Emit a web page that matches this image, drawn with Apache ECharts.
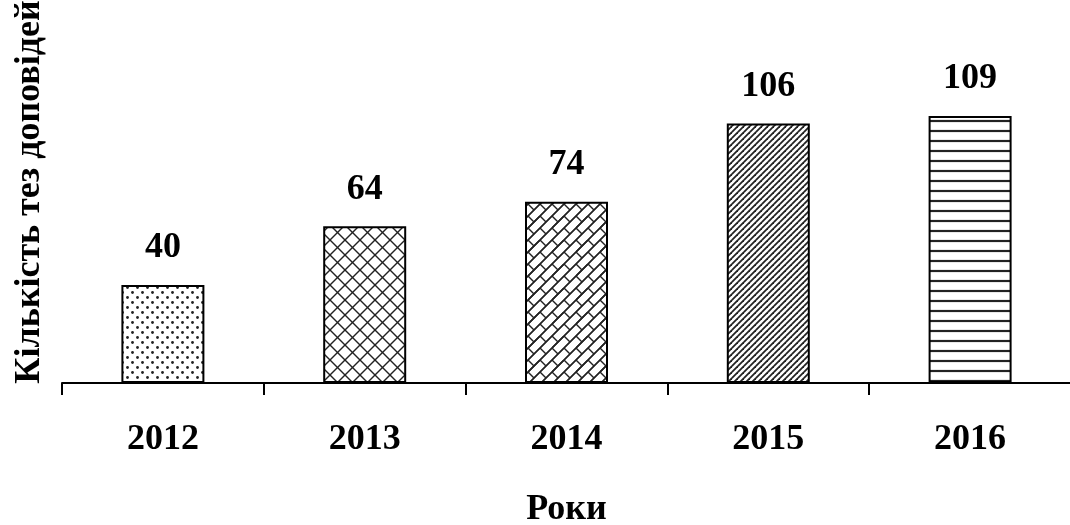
<!DOCTYPE html>
<html>
<head>
<meta charset="utf-8">
<script src="https://cdn.jsdelivr.net/npm/echarts@6/dist/echarts.min.js"></script>
<style>
  html, body { margin: 0; padding: 0; background: #fff; }
  #chart { width: 1070px; height: 525px; }
</style>
</head>
<body>
<div id="chart"></div>
<script>
const years = ['2012', '2013', '2014', '2015', '2016'];
const counts = [40, 64, 74, 106, 109];
const patternKinds = ['dots', 'cross', 'brick', 'diag', 'horiz'];

const serif = 'Liberation Serif';

// builds a small canvas tile used as a fill pattern
function makeTile(kind) {
    const sizes = { dots: [10, 10], cross: [15, 15], brick: [24, 24], diag: [6, 6], horiz: [10, 10] };
    const [w, h] = sizes[kind];
    const c = document.createElement('canvas');
    c.width = w; c.height = h;
    const ctx = c.getContext('2d');
    ctx.fillStyle = '#fff';
    ctx.fillRect(0, 0, w, h);
    ctx.strokeStyle = '#222';
    ctx.fillStyle = '#222';
    ctx.lineWidth = 1.4;

    // draw a segment repeated on neighbour tiles so it wraps cleanly
    const seg = (x1, y1, x2, y2) => {
        for (let dx = -w; dx <= w; dx += w) {
            for (let dy = -h; dy <= h; dy += h) {
                ctx.beginPath();
                ctx.moveTo(x1 + dx, y1 + dy);
                ctx.lineTo(x2 + dx, y2 + dy);
                ctx.stroke();
            }
        }
    };

    if (kind === 'dots') {
        [[2.5, 2.5], [7.5, 7.5]].forEach(([x, y]) => {
            ctx.beginPath();
            ctx.arc(x, y, 1.4, 0, Math.PI * 2);
            ctx.fill();
        });
    } else if (kind === 'cross') {
        seg(0, 0, w, h);
        seg(w, 0, 0, h);
    } else if (kind === 'brick') {
        // long "/" lines every 12 px of x+y
        seg(-24, 36, 36, -24);
        seg(-12, 36, 36, -12);
        // staggered "\" connectors
        seg(0, 0, 6, 6);
        seg(12, -12, 18, -6);
        seg(12, 0, 18, 6);
        seg(24, -12, 30, -6);
    } else if (kind === 'diag') {
        ctx.lineWidth = 1.8;
        seg(0, h, w, 0);
    } else if (kind === 'horiz') {
        ctx.lineWidth = 2.2;
        seg(0, 1, w, 1);
    }
    return c;
}

const barData = counts.map((v, i) => ({
    value: v,
    itemStyle: { color: { image: makeTile(patternKinds[i]), repeat: 'repeat' } }
}));

const chart = echarts.init(document.getElementById('chart'), null, { renderer: 'canvas' });

const option = {
    animation: false,
    backgroundColor: '#fff',
    textStyle: { fontFamily: serif },
    grid: { left: 62, right: -1, top: 1, bottom: 142, outerBoundsMode: 'none', containLabel: false },
    xAxis: {
        type: 'category',
        data: years,
        name: 'Роки',
        nameLocation: 'middle',
        nameGap: 109,
        nameTextStyle: { fontSize: 36, fontWeight: 'bold', color: '#000', fontFamily: serif },
        axisLine: { lineStyle: { color: '#000', width: 2 } },
        axisTick: { show: true, length: 12, lineStyle: { color: '#000', width: 2 } },
        axisLabel: { fontSize: 36, fontWeight: 'bold', color: '#000', margin: 39, fontFamily: serif }
    },
    yAxis: {
        type: 'value',
        min: 0,
        max: 156,
        name: 'Кількість тез доповідей',
        nameLocation: 'middle',
        nameGap: 14,
        nameTextStyle: { fontSize: 36, fontWeight: 'bold', color: '#000', fontFamily: serif },
        axisLine: { show: false },
        axisTick: { show: false },
        axisLabel: { show: false },
        splitLine: { show: false }
    },
    series: [{
        type: 'bar',
        data: barData,
        barWidth: 83,
        itemStyle: { borderColor: '#000', borderWidth: 2 },
        label: {
            show: true,
            position: 'top',
            distance: 19,
            fontSize: 36,
            fontWeight: 'bold',
            color: '#000',
            fontFamily: serif
        }
    }]
};

chart.setOption(option);
</script>
</body>
</html>
